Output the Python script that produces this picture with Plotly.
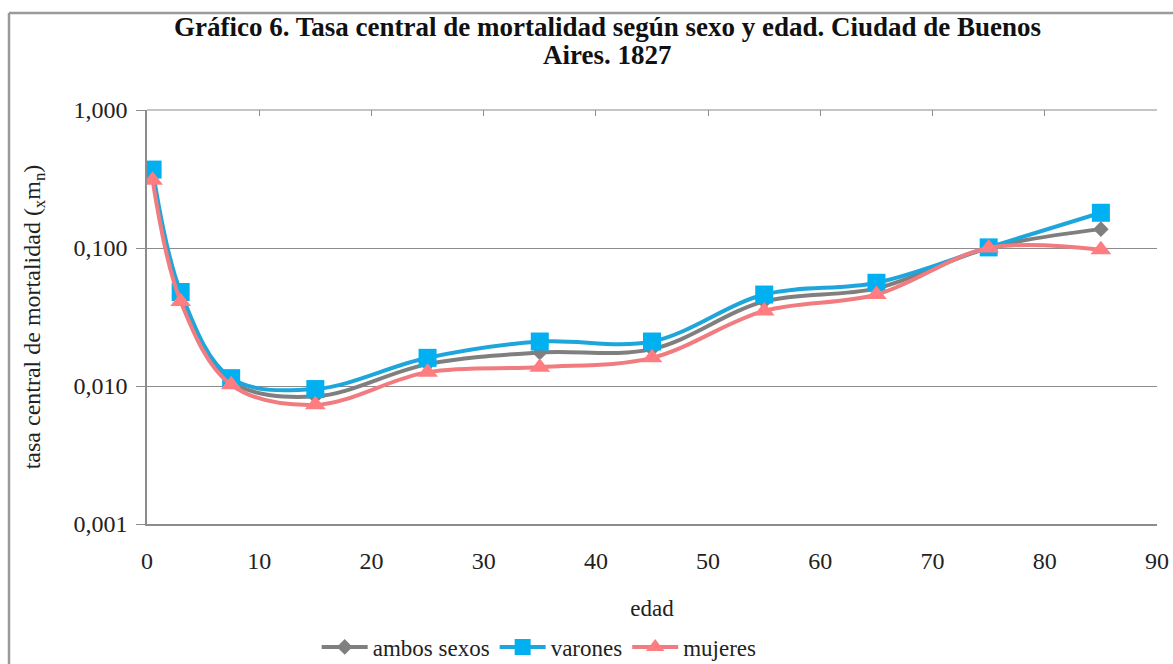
import plotly.graph_objects as go

edad = [0.5, 3, 7.5, 15, 25, 35, 45, 55, 65, 75, 85]
ambos_sexos = [0.34, 0.045, 0.0108, 0.0084, 0.0144, 0.0175, 0.0185, 0.041, 0.051, 0.100, 0.137]
varones = [0.37, 0.048, 0.0114, 0.0095, 0.016, 0.021, 0.021, 0.046, 0.056, 0.101, 0.18]
mujeres = [0.31, 0.041, 0.0102, 0.0073, 0.0126, 0.0137, 0.016, 0.035, 0.046, 0.100, 0.097]

y_tickvals = [0.001, 0.01, 0.1, 1]
y_ticktext = ["0,001", "0,010", "0,100", "1,000"]
x_tickvals = [0, 10, 20, 30, 40, 50, 60, 70, 80, 90]

title_line1 = "Gráfico 6. Tasa central de mortalidad según sexo y edad. Ciudad de Buenos"
title_line2 = "Aires. 1827"

FONT = "Liberation Serif, Times New Roman, serif"
GRID = "#8c8c8c"
TXT = "#222"

fig = go.Figure()
fig.add_trace(go.Scatter(
    x=edad, y=ambos_sexos, name="ambos sexos", mode="lines+markers",
    line=dict(color="#7f7f7f", width=4, shape="spline", smoothing=1),
    marker=dict(symbol="diamond", size=12, color="#7f7f7f")))
fig.add_trace(go.Scatter(
    x=edad, y=varones, name="varones", mode="lines+markers",
    line=dict(color="#1ea6dc", width=4, shape="spline", smoothing=1),
    marker=dict(symbol="square", size=18, color="#00b0f0")))
fig.add_trace(go.Scatter(
    x=edad, y=mujeres, name="mujeres", mode="lines+markers",
    line=dict(color="#f07c80", width=4, shape="spline", smoothing=1),
    marker=dict(symbol="triangle-up", size=18, color="#ff7c80")))
# helper trace so the top (mirrored) tick axis is drawn
fig.add_trace(go.Scatter(x=[None], y=[None], xaxis="x2", showlegend=False,
                         hoverinfo="skip", mode="lines"))

fig.update_layout(
    width=1173, height=664,
    paper_bgcolor="white", plot_bgcolor="white",
    margin=dict(l=147, r=16, t=110, b=140, autoexpand=False),
    font=dict(family=FONT, size=23, color=TXT),
    xaxis=dict(
        range=[0, 90], tickvals=x_tickvals, showgrid=False, zeroline=False,
        showline=True, linecolor=GRID, linewidth=1.5, ticks="",
        ticklabelstandoff=14, automargin=False,
        tickfont=dict(family=FONT, size=24, color=TXT),
        title=dict(text="edad", font=dict(family=FONT, size=23, color=TXT), standoff=27)),
    xaxis2=dict(
        range=[0, 90], tickvals=x_tickvals, overlaying="x", side="top",
        showgrid=False, zeroline=False, showline=False, showticklabels=False,
        ticks="inside", ticklen=6, tickcolor=GRID, tickwidth=1.2, automargin=False),
    yaxis=dict(
        type="log", range=[-3, 0], tickvals=y_tickvals, ticktext=y_ticktext,
        showgrid=True, gridcolor=GRID, gridwidth=1.2, zeroline=False,
        showline=True, linecolor=GRID, linewidth=1.5, ticks="outside",
        ticklen=9, tickcolor=GRID, ticklabelstandoff=4, automargin=False,
        tickfont=dict(family=FONT, size=24, color=TXT),
        title=dict(text="tasa central de mortalidad (<sub>x</sub>m<sub>n</sub>)",
                   font=dict(family=FONT, size=24, color=TXT), standoff=26)),
    legend=dict(
        orientation="h", x=0.168, xanchor="left", y=-0.297, yanchor="middle",
        font=dict(family=FONT, size=23, color=TXT), itemwidth=46,
        bgcolor="rgba(0,0,0,0)"),
    showlegend=True,
)

# chart title (two lines, as in the original)
for txt, ypx in [(title_line1, 27), (title_line2, 55)]:
    fig.add_annotation(
        text="<b>" + txt + "</b>",
        xref="paper", yref="paper", x=0.456, y=1 + (110 - ypx) / 414,
        xanchor="center", yanchor="middle", showarrow=False,
        font=dict(family=FONT, size=27, color="#111"))

# top gridline at 1,000
fig.add_shape(type="line", xref="x", yref="paper", x0=0, x1=90, y0=1, y1=1,
              line=dict(color=GRID, width=1.2))

# outer chart frame (left and top edges visible in the cropped original)
fx = (9 - 147) / 1010
fy = 1 + (110 - 13) / 414
fig.add_shape(type="line", xref="paper", yref="paper", x0=fx, x1=fx,
              y0=-0.4, y1=fy, line=dict(color="#9a9a9a", width=2.5))
fig.add_shape(type="line", xref="paper", yref="paper", x0=fx, x1=1.05,
              y0=fy, y1=fy, line=dict(color="#9a9a9a", width=2.5))

fig.write_html("out.html", config={"displayModeBar": False},
               post_script="document.body.style.margin='0px';")
